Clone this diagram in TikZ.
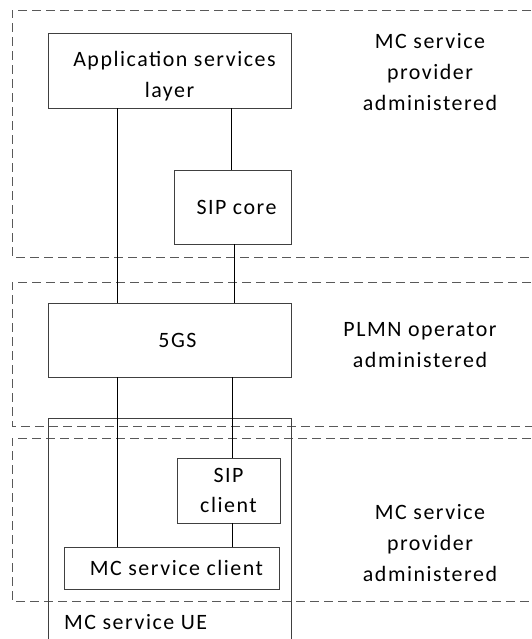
\documentclass[tikz,border=0pt]{standalone}
\usepackage{fontspec}
\setmainfont{Carlito}[LetterSpace=7]
\begin{document}
\begin{tikzpicture}[x=1bp,y=-1bp,every node/.style={font=\fontsize{22}{31}\selectfont}]
\tikzstyle{block} = [draw=black!75,line width=0.8bp,inner sep=0pt,align=center];
\tikzstyle{zone} = [draw=black!65,line width=0.8bp,dash pattern=on 9bp off 5bp]
\tikzstyle{link} = [line width=0.8bp]
\useasboundingbox (0,0) rectangle (532,639);

\draw [zone] (545,10) -- (12,10) -- (12,257) -- (545,257);
\draw [zone] (545,282) -- (12,282) -- (12,426) -- (545,426);
\draw [zone] (545,438) -- (12,438) -- (12,601) -- (545,601);

\node [block,minimum width=243bp,minimum height=75bp,text height=57bp] (v1) at (169.5,70.5) {\hspace{10bp}Application services\\layer};
\node [block,minimum width=117bp,minimum height=74bp] (v2) at (232.5,207) {\hspace{8bp}SIP core};
\node [block,minimum width=243bp,minimum height=74bp] (v3) at (169.5,340) {\hspace{16bp}5GS};
\node [block,minimum width=243bp,minimum height=240bp,anchor=north west] (v6) at (48,418) {};
\node [block,minimum width=103bp,minimum height=65bp] (v4) at (228.5,490.5) {SIP\\client};
\node [block,minimum width=215bp,minimum height=42bp] (v5) at (171.5,568) {\hspace{10bp}MC service client};
\node [anchor=west,inner sep=0pt] (v7) at (64,622) {MC service UE};

\node [align=center] (v8) at (430,72) {MC service\\provider\\administered};
\node [align=center] (v9) at (420,345) {PLMN operator\\administered};
\node [align=center] (v10) at (430,543) {MC service\\provider\\administered};

\coordinate (c1) at (117,0);
\coordinate (c2) at (231,0);
\coordinate (c3) at (234,0);
\coordinate (c4) at (232,0);
\draw [link] (c1 |- v1.south) -- (c1 |- v3.north);
\draw [link] (c2 |- v1.south) -- (c2 |- v2.north);
\draw [link] (c3 |- v2.south) -- (c3 |- v3.north);
\draw [link] (c1 |- v3.south) -- (c1 |- v5.north);
\draw [link] (c4 |- v3.south) -- (c4 |- v4.north);
\draw [link] (c4 |- v4.south) -- (c4 |- v5.north);
\end{tikzpicture}
\end{document}
